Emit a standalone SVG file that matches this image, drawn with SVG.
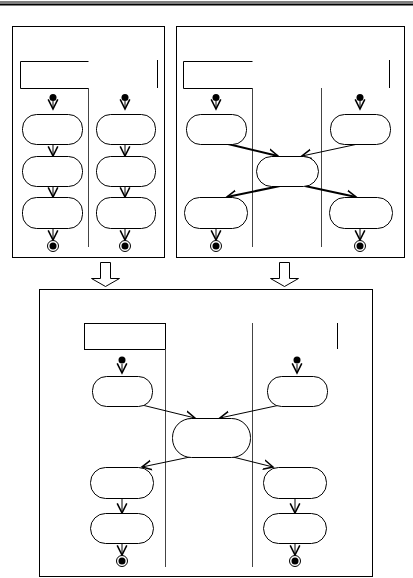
<svg xmlns="http://www.w3.org/2000/svg" width="413" height="578" viewBox="0 0 413 578">
<defs>
<style>
.frame{fill:none;stroke:#000;stroke-width:1}
.lane{fill:none;stroke:#444;stroke-width:1}
.act{fill:#fff;stroke:#000;stroke-width:1}
.flow{fill:none;stroke:#000;stroke-width:1;marker-end:url(#v)}
.bold{stroke-width:2}
.blk{fill:#fff;stroke:#000;stroke-width:1}
.endo{fill:#fff;stroke:#000;stroke-width:1}
</style>
<marker id="v" markerUnits="userSpaceOnUse" markerWidth="12" markerHeight="12" refX="8" refY="4" orient="auto" viewBox="0 0 10 8">
<path d="M0,0 L8,4 L0,8" fill="none" stroke="#000" stroke-width="1.3"/>
</marker>
</defs>
<rect width="413" height="578" fill="#fff"/>
<line x1="0" y1="2" x2="413" y2="2" stroke="#000" stroke-width="1"/>
<line x1="0" y1="4.5" x2="413" y2="4.5" stroke="#000" stroke-width="2"/>

<g id="panel-left">
<rect class="frame" x="12.5" y="26.5" width="152" height="231"/>
<path class="frame" d="M88.5,61.5 H20.5 V88.5 H88.5"/>
<line class="lane" x1="88.5" y1="88" x2="88.5" y2="247"/>
<line class="frame" x1="157.5" y1="60" x2="157.5" y2="88"/>
</g>
<g id="panel-right">
<rect class="frame" x="176.5" y="26.5" width="228" height="231"/>
<path class="frame" d="M252.5,61.5 H183.5 V88.5 H252.5"/>
<line class="lane" x1="252.5" y1="88" x2="252.5" y2="247"/>
<line class="lane" x1="321.5" y1="88" x2="321.5" y2="247"/>
<line class="frame" x1="389.5" y1="60" x2="389.5" y2="88"/>
</g>
<g id="panel-bottom">
<rect class="frame" x="39.5" y="289.5" width="333" height="287"/>
<rect class="frame" x="84.5" y="323.5" width="81" height="26"/>
<line class="lane" x1="165.5" y1="349" x2="165.5" y2="567"/>
<line class="lane" x1="252.5" y1="323" x2="252.5" y2="567"/>
<line class="frame" x1="337.5" y1="323" x2="337.5" y2="349"/>
</g>
<g id="block-arrow-left">
<path class="blk" d="M100.5,262.5 H110.5 V278.5 H119.5 L105.5,286.5 L91.5,278.5 H100.5 Z"/>
</g>
<g id="block-arrow-right">
<path class="blk" d="M279.5,262.5 H289.5 V278.5 H298.5 L284.5,286.5 L270.5,278.5 H279.5 Z"/>
</g>

<g id="connectors">
<line class="flow" x1="53" y1="101" x2="53" y2="109"/>
<line class="flow" x1="53" y1="144" x2="53" y2="156"/>
<line class="flow" x1="53" y1="186" x2="53" y2="197"/>
<line class="flow" x1="53" y1="228" x2="53" y2="240"/>
<line class="flow" x1="125" y1="101" x2="125" y2="109"/>
<line class="flow" x1="125" y1="144" x2="125" y2="156"/>
<line class="flow" x1="125" y1="186" x2="125" y2="197"/>
<line class="flow" x1="125" y1="228" x2="125" y2="240"/>
<line class="flow" x1="216" y1="101" x2="216" y2="109"/>
<line class="flow" x1="360" y1="101" x2="360" y2="109"/>
<line class="flow bold" x1="228" y1="144" x2="278" y2="156"/>
<line class="flow" x1="358" y1="144" x2="302" y2="156"/>
<line class="flow bold" x1="280" y1="186" x2="227" y2="197"/>
<line class="flow bold" x1="305" y1="186" x2="356" y2="197"/>
<line class="flow" x1="216" y1="228" x2="216" y2="240"/>
<line class="flow" x1="360" y1="228" x2="360" y2="240"/>
<line class="flow" x1="122" y1="364" x2="122" y2="373"/>
<line class="flow" x1="297" y1="364" x2="297" y2="373"/>
<line class="flow" x1="142" y1="405" x2="195" y2="418"/>
<line class="flow" x1="280" y1="405" x2="220" y2="418"/>
<line class="flow" x1="190" y1="457" x2="142" y2="467"/>
<line class="flow" x1="233" y1="457" x2="273" y2="467"/>
<line class="flow" x1="122" y1="498" x2="122" y2="513"/>
<line class="flow" x1="122" y1="543" x2="122" y2="555"/>
<line class="flow" x1="295" y1="498" x2="295" y2="513"/>
<line class="flow" x1="295" y1="543" x2="295" y2="555"/>
</g>

<g id="start-l1"><circle cx="53" cy="97.5" r="3.5"/></g>
<g id="start-l2"><circle cx="125" cy="97.5" r="3.5"/></g>
<g id="start-r1"><circle cx="216" cy="97.5" r="3.5"/></g>
<g id="start-r2"><circle cx="360" cy="97.5" r="3.5"/></g>
<g id="start-b1"><circle cx="122" cy="360" r="3.5"/></g>
<g id="start-b2"><circle cx="297" cy="360" r="3.5"/></g>

<g id="act-l1a"><rect class="act" x="22.5" y="114.5" width="60" height="30" rx="14"/></g>
<g id="act-l1b"><rect class="act" x="22.5" y="156.5" width="60" height="30" rx="14"/></g>
<g id="act-l1c"><rect class="act" x="22.5" y="197.5" width="60" height="31" rx="14"/></g>
<g id="act-l2a"><rect class="act" x="96.5" y="114.5" width="59" height="30" rx="14"/></g>
<g id="act-l2b"><rect class="act" x="96.5" y="156.5" width="59" height="30" rx="14"/></g>
<g id="act-l2c"><rect class="act" x="96.5" y="197.5" width="59" height="31" rx="14"/></g>

<g id="act-r1"><rect class="act" x="186.5" y="114.5" width="60" height="30" rx="14"/></g>
<g id="act-r2"><rect class="act" x="330.5" y="114.5" width="60" height="30" rx="14"/></g>
<g id="act-rm"><rect class="act" x="256.5" y="156.5" width="62" height="30" rx="15"/></g>
<g id="act-r3"><rect class="act" x="184.5" y="197.5" width="63" height="31" rx="15"/></g>
<g id="act-r4"><rect class="act" x="329.5" y="197.5" width="63" height="31" rx="15"/></g>

<g id="act-b1"><rect class="act" x="92.5" y="376.5" width="60" height="30" rx="14"/></g>
<g id="act-b2"><rect class="act" x="267.5" y="376.5" width="60" height="30" rx="14"/></g>
<g id="act-bm"><rect class="act" x="172.5" y="418.5" width="78" height="39" rx="19"/></g>
<g id="act-b3"><rect class="act" x="90.5" y="467.5" width="63" height="31" rx="15"/></g>
<g id="act-b4"><rect class="act" x="90.5" y="513.5" width="63" height="30" rx="15"/></g>
<g id="act-b5"><rect class="act" x="263.5" y="467.5" width="63" height="31" rx="15"/></g>
<g id="act-b6"><rect class="act" x="263.5" y="513.5" width="63" height="30" rx="15"/></g>

<g id="end-l1"><circle class="endo" cx="53" cy="246" r="5.5"/><circle cx="53" cy="246" r="3.5"/></g>
<g id="end-l2"><circle class="endo" cx="125" cy="246" r="5.5"/><circle cx="125" cy="246" r="3.5"/></g>
<g id="end-r1"><circle class="endo" cx="216" cy="246" r="5.5"/><circle cx="216" cy="246" r="3.5"/></g>
<g id="end-r2"><circle class="endo" cx="360" cy="246" r="5.5"/><circle cx="360" cy="246" r="3.5"/></g>
<g id="end-b1"><circle class="endo" cx="122" cy="561" r="5.5"/><circle cx="122" cy="561" r="3.5"/></g>
<g id="end-b2"><circle class="endo" cx="295" cy="561" r="5.5"/><circle cx="295" cy="561" r="3.5"/></g>
</svg>
